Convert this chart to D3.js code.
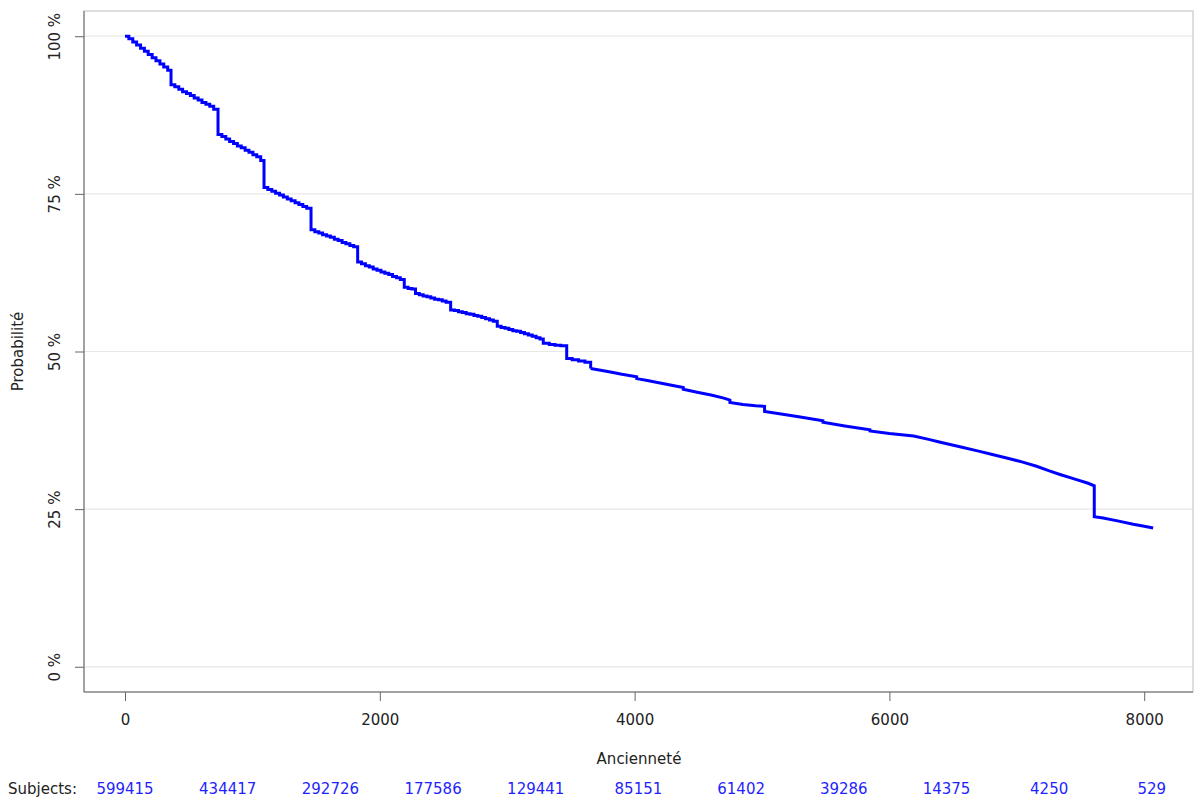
<!DOCTYPE html>
<html>
<head>
    <meta charset="utf-8">
    <script src="https://cdn.jsdelivr.net/npm/d3@7"></script>
    <style>
        body { margin: 0; background: #fff; }
        text { font-family: "DejaVu Sans", sans-serif; }
    </style>
    <title>Survie - Ancienneté</title>
</head>
<body>
    <svg width="1195" height="799"></svg>
<script>
    // courbe de survie, première partie en escalier (jours, %)
    const days = [0, 30, 61, 91, 122, 152, 182, 213, 243, 274, 304, 335,
        361, 391, 422, 452, 483, 513, 543, 574, 604, 635, 665, 696,
        730, 760, 791, 821, 852, 882, 912, 943, 973, 1004, 1034, 1065,
        1091, 1121, 1152, 1182, 1213, 1243, 1274, 1304, 1335, 1365, 1396, 1426,
        1460, 1490, 1521, 1551, 1582, 1612, 1643, 1673, 1704, 1734, 1765, 1795,
        1826, 1856, 1887, 1917, 1948, 1978, 2009, 2039, 2070, 2100, 2131, 2161,
        2192, 2222, 2252, 2280, 2310, 2340, 2370, 2400, 2430, 2460, 2490, 2520,
        2556, 2586, 2617, 2647, 2678, 2708, 2739, 2769, 2800, 2830, 2861, 2891,
        2922, 2952, 2983, 3013, 3044, 3074, 3105, 3135, 3166, 3196, 3227, 3257,
        3283, 3330, 3375, 3420,
        3467, 3510, 3560, 3610, 3655];
    const survival = [100, 99.6, 99.1, 98.6, 98.1, 97.6, 97.1, 96.6, 96.1, 95.6, 95.1, 94.6,
        92.3, 92.0, 91.6, 91.2, 90.9, 90.6, 90.2, 89.9, 89.5, 89.2, 88.9, 88.4,
        84.4, 84.1, 83.7, 83.3, 83.0, 82.6, 82.3, 81.9, 81.6, 81.2, 80.9, 80.3,
        76.0, 75.7, 75.4, 75.1, 74.8, 74.5, 74.2, 73.9, 73.6, 73.3, 73.0, 72.7,
        69.3, 69.0, 68.8, 68.5, 68.3, 68.1, 67.8, 67.6, 67.3, 67.1, 66.8, 66.6,
        64.2, 63.9, 63.6, 63.4, 63.1, 62.9, 62.6, 62.4, 62.2, 61.9, 61.7, 61.4,
        60.2, 60.0, 59.9, 59.2, 59.0, 58.8, 58.7, 58.5, 58.3, 58.2, 58.0, 57.8,
        56.6, 56.5, 56.3, 56.2, 56.0, 55.9, 55.7, 55.6, 55.4, 55.2, 55.0, 54.8,
        54.0, 53.8, 53.7, 53.5, 53.3, 53.2, 53.0, 52.8, 52.6, 52.4, 52.2, 52.0,
        51.3, 51.1, 51.0, 50.9,
        48.9, 48.7, 48.5, 48.3, 47.3];

    // seconde partie, presque lisse (les sauts sont des temps répétés)
    const daysLate = [3655, 3800, 3900, 4016, 4016, 4100, 4200, 4300, 4382, 4382,
        4500, 4600, 4700, 4748, 4748, 4850, 4950, 5020, 5020, 5150, 5300, 5478, 5478,
        5650, 5847, 5847, 6000, 6190, 6300, 6400, 6553, 6700, 6800, 6920, 7040, 7155,
        7250, 7339, 7450, 7560, 7608, 7608, 7678, 7800, 7914, 8000, 8070];
    const survivalLate = [47.3, 46.8, 46.4, 46.0, 45.7, 45.4, 45.0, 44.6, 44.3, 44.0,
        43.5, 43.1, 42.6, 42.3, 41.9, 41.6, 41.4, 41.3, 40.5, 40.1, 39.6, 39.0, 38.8,
        38.2, 37.6, 37.4, 37.0, 36.6, 36.1, 35.6, 34.9, 34.2, 33.7, 33.1, 32.5, 31.8,
        31.1, 30.5, 29.8, 29.1, 28.7, 23.8, 23.6, 23.1, 22.6, 22.3, 22.0];

    const xTicks = [0, 2000, 4000, 6000, 8000];
    const yTicks = [0, 25, 50, 75, 100];
    // effectifs à risque
    const riskTimes = [0, 806, 1612, 2418, 3224, 4030, 4836, 5642, 6448, 7254, 8060];
    const riskCounts = [599415, 434417, 292726, 177586, 129441, 85151, 61402, 39286, 14375, 4250, 529];

    const svg = d3.select("svg");
    const pLeft = 84, pRight = 1193, pTop = 11, pBottom = 692;

    const x = d3.scaleLinear().domain([-322, 8383]).range([pLeft, pRight]);
    const y = d3.scaleLinear().domain([-4, 104]).range([pBottom, pTop]);

    // grille
    svg.append("g").selectAll("line")
        .data(yTicks).enter().append("line")
        .attr("x1", pLeft).attr("x2", pRight)
        .attr("y1", d => y(d)).attr("y2", d => y(d))
        .attr("stroke", "#e8e8e8").attr("stroke-width", 1.2);

    // cadre
    svg.append("rect")
        .attr("x", pLeft).attr("y", pTop)
        .attr("width", pRight - pLeft).attr("height", pBottom - pTop)
        .attr("fill", "none").attr("stroke", "#c8c8c8").attr("stroke-width", 1.2);

    // axe gauche
    const yAxis = svg.append("g").attr("transform", `translate(${pLeft},0)`)
        .call(d3.axisLeft(y).tickValues(yTicks).tickSize(9).tickSizeOuter(0).tickFormat(d => d + " %"));
    yAxis.select(".domain").attr("stroke", "#666").attr("d", `M0,${pTop}V${pBottom}`);
    yAxis.selectAll(".tick line").attr("stroke", "#666");
    yAxis.selectAll(".tick text")
        .attr("font-size", 15).attr("fill", "#222")
        .attr("x", 0).attr("y", -24).attr("dy", 0)
        .attr("text-anchor", "middle")
        .attr("transform", "rotate(-90)");

    // axe bas
    const xAxis = svg.append("g").attr("transform", `translate(0,${pBottom})`)
        .call(d3.axisBottom(x).tickValues(xTicks).tickSize(9).tickSizeOuter(0).tickFormat(d3.format("d")));
    xAxis.select(".domain").attr("stroke", "#666").attr("d", `M${pLeft},0H${pRight}`);
    xAxis.selectAll(".tick line").attr("stroke", "#666");
    xAxis.selectAll(".tick text").attr("font-size", 15).attr("fill", "#222").attr("y", 22);

    // titres d'axes
    svg.append("text")
        .attr("x", (pLeft + pRight) / 2 + 0.5).attr("y", 764)
        .attr("text-anchor", "middle").attr("font-size", 15).attr("fill", "#222")
        .text("Ancienneté");
    svg.append("text")
        .attr("transform", `translate(23,${(pTop + pBottom) / 2}) rotate(-90)`)
        .attr("text-anchor", "middle").attr("font-size", 15).attr("fill", "#222")
        .text("Probabilité");

    // courbe
    const stepLine = d3.line()
        .x(d => x(d[0])).y(d => y(d[1]))
        .curve(d3.curveStepAfter);
    const smoothLine = d3.line()
        .x(d => x(d[0])).y(d => y(d[1]));

    svg.append("path")
        .datum(days.map((d, i) => [d, survival[i]]))
        .attr("d", stepLine)
        .attr("fill", "none")
        .attr("stroke", "#0000ff")
        .attr("stroke-width", 3);
    svg.append("path")
        .datum(daysLate.map((d, i) => [d, survivalLate[i]]))
        .attr("d", smoothLine)
        .attr("fill", "none")
        .attr("stroke", "#0000ff")
        .attr("stroke-width", 3);

    // tableau des sujets
    svg.append("text")
        .attr("x", 8).attr("y", 794)
        .attr("font-size", 15).attr("fill", "#222")
        .text("Subjects:");
    svg.append("g").selectAll("text")
        .data(riskCounts).enter().append("text")
        .attr("x", (d, i) => x(riskTimes[i]))
        .attr("y", 794)
        .attr("text-anchor", "middle")
        .attr("font-size", 15)
        .attr("fill", "#1f1fff")
        .text(d => d);
</script>
</body>
</html>
